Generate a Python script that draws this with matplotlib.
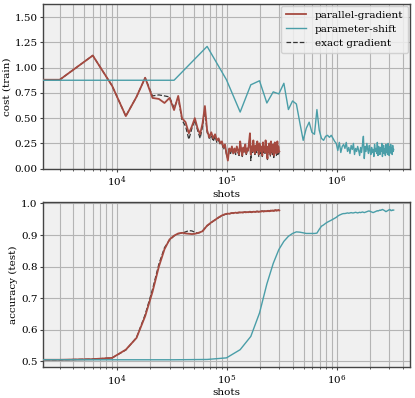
import numpy as np
import matplotlib
matplotlib.use('Agg')
import matplotlib.pyplot as plt
from matplotlib.ticker import FormatStrFormatter


# shots per optimisation step
steps = np.arange(0, 101)
par_shots_per_step = 3000
ps_shots_per_step = 33000

# cost (train), one value per step
par_cost = [0.88, 0.88, 1.12, 0.82, 0.52, 0.71, 0.90, 0.70, 0.69, 0.65,
            0.70, 0.58, 0.72, 0.50, 0.46, 0.35, 0.42, 0.50, 0.40, 0.34,
            0.45, 0.62, 0.38, 0.31, 0.36, 0.30, 0.34, 0.28, 0.30, 0.25,
            0.27, 0.21, 0.24, 0.15, 0.08, 0.20, 0.17, 0.22, 0.15, 0.20,
            0.16, 0.22, 0.18, 0.14, 0.27, 0.19, 0.13, 0.21, 0.17, 0.24,
            0.15, 0.20, 0.18, 0.26, 0.35, 0.14, 0.22, 0.17, 0.28, 0.19,
            0.15, 0.23, 0.18, 0.27, 0.21, 0.14, 0.25, 0.17, 0.22, 0.19,
            0.13, 0.26, 0.18, 0.21, 0.16, 0.28, 0.20, 0.15, 0.10, 0.22,
            0.17, 0.25, 0.19, 0.14, 0.27, 0.18, 0.22, 0.16, 0.24, 0.13,
            0.20, 0.26, 0.17, 0.23, 0.15, 0.21, 0.27, 0.16, 0.22, 0.18, 0.17]

exact_cost = [0.88, 0.88, 1.12, 0.82, 0.52, 0.71, 0.90, 0.72, 0.73, 0.72,
              0.71, 0.60, 0.70, 0.48, 0.42, 0.29, 0.40, 0.48, 0.38, 0.30,
              0.42, 0.58, 0.36, 0.30, 0.33, 0.27, 0.32, 0.26, 0.28, 0.24,
              0.25, 0.19, 0.22, 0.14, 0.10, 0.18, 0.15, 0.20, 0.16, 0.18,
              0.14, 0.20, 0.16, 0.13, 0.25, 0.17, 0.12, 0.19, 0.16, 0.22,
              0.14, 0.18, 0.17, 0.24, 0.31, 0.08, 0.20, 0.16, 0.26, 0.17,
              0.14, 0.21, 0.16, 0.25, 0.19, 0.12, 0.23, 0.15, 0.20, 0.17,
              0.12, 0.24, 0.16, 0.19, 0.14, 0.26, 0.18, 0.13, 0.09, 0.20,
              0.15, 0.23, 0.17, 0.12, 0.25, 0.16, 0.20, 0.14, 0.22, 0.11,
              0.18, 0.24, 0.15, 0.21, 0.13, 0.19, 0.25, 0.14, 0.20, 0.16, 0.15]

ps_cost = [0.875, 0.875, 1.21, 0.88, 0.56, 0.83, 0.87, 0.65, 0.76, 0.74,
           0.845, 0.585, 0.67, 0.64, 0.45, 0.28, 0.40, 0.46, 0.36, 0.34,
           0.585, 0.38, 0.30, 0.28, 0.32, 0.33, 0.31, 0.33, 0.30, 0.27,
           0.25, 0.18, 0.26, 0.16, 0.22, 0.24, 0.20, 0.26, 0.17, 0.21,
           0.15, 0.23, 0.19, 0.25, 0.14, 0.20, 0.17, 0.22, 0.18, 0.13,
           0.21, 0.16, 0.24, 0.32, 0.10, 0.22, 0.17, 0.25, 0.19, 0.15,
           0.23, 0.18, 0.14, 0.21, 0.16, 0.19, 0.12, 0.24, 0.17, 0.20,
           0.15, 0.26, 0.13, 0.22, 0.18, 0.14, 0.21, 0.17, 0.25, 0.12,
           0.19, 0.23, 0.15, 0.20, 0.13, 0.24, 0.16, 0.21, 0.14, 0.25,
           0.18, 0.13, 0.22, 0.16, 0.24, 0.15, 0.20, 0.14, 0.23, 0.17, 0.19]

# accuracy (test), one value per step
par_acc = [0.505, 0.505, 0.507, 0.511, 0.537, 0.574, 0.643, 0.720, 0.800, 0.855,
           0.886, 0.898, 0.905, 0.907, 0.905, 0.904, 0.903, 0.904, 0.906, 0.909,
           0.912, 0.921, 0.930, 0.935, 0.940, 0.944, 0.948, 0.952, 0.956, 0.959,
           0.962, 0.964, 0.966, 0.967, 0.968, 0.967, 0.969, 0.970, 0.969, 0.970,
           0.971, 0.970, 0.971, 0.972, 0.971, 0.972, 0.971, 0.972, 0.973, 0.972,
           0.972, 0.973, 0.972, 0.973, 0.974, 0.973, 0.972, 0.973, 0.974, 0.973,
           0.974, 0.973, 0.974, 0.975, 0.974, 0.973, 0.974, 0.975, 0.974, 0.975,
           0.976, 0.975, 0.974, 0.975, 0.976, 0.975, 0.976, 0.975, 0.976, 0.977,
           0.976, 0.975, 0.976, 0.977, 0.976, 0.977, 0.978, 0.977, 0.976, 0.977,
           0.978, 0.977, 0.978, 0.979, 0.978, 0.977, 0.978, 0.979, 0.978, 0.979, 0.978]

exact_acc = [0.505, 0.505, 0.507, 0.511, 0.536, 0.575, 0.648, 0.728, 0.808, 0.860,
             0.884, 0.897, 0.904, 0.906, 0.910, 0.914, 0.913, 0.909, 0.906, 0.908,
             0.913, 0.922, 0.929, 0.934, 0.939, 0.944, 0.948, 0.951, 0.955, 0.958,
             0.961, 0.963, 0.965, 0.966, 0.967, 0.968, 0.968, 0.969, 0.970, 0.969,
             0.970, 0.971, 0.970, 0.971, 0.972, 0.971, 0.972, 0.971, 0.972, 0.973,
             0.972, 0.972, 0.973, 0.974, 0.973, 0.972, 0.973, 0.974, 0.973, 0.974,
             0.973, 0.974, 0.975, 0.974, 0.975, 0.974, 0.975, 0.974, 0.975, 0.976,
             0.975, 0.976, 0.975, 0.976, 0.975, 0.976, 0.977, 0.976, 0.977, 0.976,
             0.977, 0.976, 0.977, 0.978, 0.977, 0.976, 0.977, 0.978, 0.977, 0.978,
             0.977, 0.978, 0.979, 0.978, 0.977, 0.978, 0.979, 0.978, 0.979, 0.978, 0.979]

ps_acc = [0.505, 0.505, 0.506, 0.511, 0.537, 0.579, 0.653, 0.745, 0.810, 0.854,
          0.880, 0.896, 0.905, 0.910, 0.909, 0.907, 0.905, 0.905, 0.905, 0.905,
          0.906, 0.918, 0.928, 0.932, 0.937, 0.941, 0.944, 0.947, 0.950, 0.953,
          0.956, 0.960, 0.963, 0.965, 0.967, 0.968, 0.968, 0.969, 0.970, 0.969,
          0.970, 0.971, 0.970, 0.970, 0.971, 0.972, 0.971, 0.970, 0.971, 0.972,
          0.971, 0.972, 0.973, 0.972, 0.971, 0.972, 0.973, 0.974, 0.975, 0.976,
          0.976, 0.975, 0.974, 0.973, 0.972, 0.971, 0.972, 0.973, 0.974, 0.975,
          0.976, 0.977, 0.976, 0.977, 0.978, 0.979, 0.978, 0.979, 0.980, 0.981,
          0.980, 0.979, 0.978, 0.977, 0.975, 0.974, 0.975, 0.976, 0.977, 0.978,
          0.979, 0.980, 0.981, 0.980, 0.978, 0.977, 0.978, 0.979, 0.978, 0.979, 0.979]

par_shots = steps * par_shots_per_step
ps_shots = steps * ps_shots_per_step

RED = '#a54a40'
TEAL = '#4a9ea8'
FS = 7.5

plt.rcParams['font.family'] = 'DejaVu Serif'
plt.rcParams['font.size'] = FS
plt.rcParams['axes.facecolor'] = '#f0f0f0'
plt.rcParams['axes.edgecolor'] = '#444444'

fig = plt.figure(figsize=(4.15, 3.98), dpi=100)
ax1 = fig.add_axes([0.104, 0.575, 0.884, 0.415])
ax2 = fig.add_axes([0.104, 0.077, 0.884, 0.415])


def style_axes(ax):
    ax.set_xscale('log', nonpositive='clip')
    ax.set_xlim(2.12e3, 4.65e6)
    ax.grid(True, which='major', color='#b4b4b4', lw=0.8)
    ax.grid(True, which='minor', axis='x', color='#b4b4b4', lw=0.8)
    ax.set_axisbelow(True)
    ax.tick_params(which='major', length=2.5, pad=1.5, labelsize=FS, color='#444444')
    ax.tick_params(which='minor', length=1.5, color='#444444')
    ax.set_xlabel('shots', fontsize=FS, labelpad=0.5)
    for s in ax.spines.values():
        s.set_linewidth(1.0)


# exact gradient sits underneath the parallel-gradient line
ax1.plot(par_shots, par_cost, color=RED, lw=1.3, label='parallel-gradient', zorder=3)
ax1.plot(ps_shots, ps_cost, color=TEAL, lw=1.0, label='parameter-shift', zorder=3)
ax1.plot(par_shots, exact_cost, color='#333333', lw=0.9, ls='--', label='exact gradient', zorder=2)
style_axes(ax1)
ax1.set_ylim(-0.005, 1.63)
ax1.set_yticks([0, 0.25, 0.5, 0.75, 1.0, 1.25, 1.5])
ax1.yaxis.set_major_formatter(FormatStrFormatter('%.2f'))
ax1.set_ylabel('cost (train)', fontsize=FS, labelpad=2)
ax1.legend(loc='upper right', fontsize=FS, framealpha=0.85, edgecolor='#cccccc',
           fancybox=True, borderpad=0.45, labelspacing=0.45, handlelength=2.0,
           borderaxespad=0.2)

ax2.plot(par_shots, par_acc, color=RED, lw=1.3, zorder=3)
ax2.plot(ps_shots, ps_acc, color=TEAL, lw=1.0, zorder=3)
ax2.plot(par_shots, exact_acc, color='#333333', lw=0.9, ls='--', zorder=2)
style_axes(ax2)
ax2.set_ylim(0.481, 1.004)
ax2.set_ylabel('accuracy (test)', fontsize=FS, labelpad=2)

fig.savefig('out.png', dpi=100)
